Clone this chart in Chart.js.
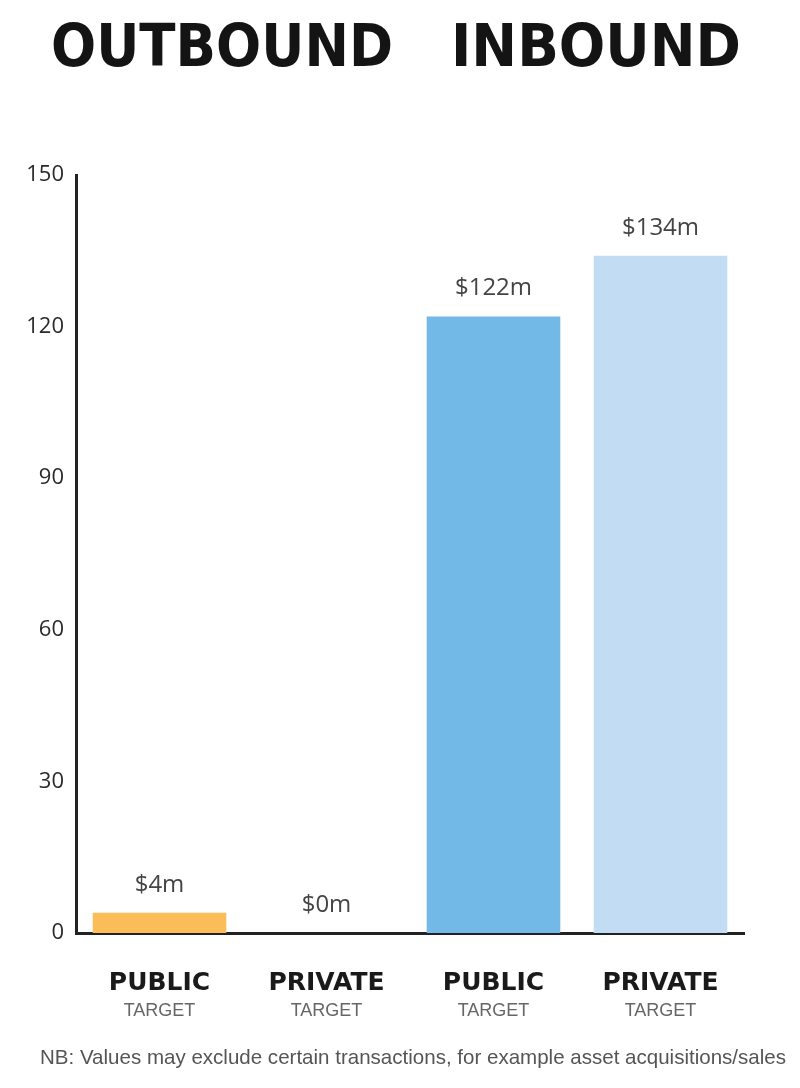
<!DOCTYPE html>
<html>
<head>
<meta charset="utf-8">
<script src="https://cdn.jsdelivr.net/npm/chart.js@4/dist/chart.umd.min.js"></script>
<style>
  html, body { margin: 0; padding: 0; background: #fff; }
  #wrap { width: 800px; height: 1088px; position: relative; }
</style>
</head>
<body>
<div id="wrap"><canvas id="chart" width="800" height="1088"></canvas></div>
<script>
// chart data
const groups = ['OUTBOUND', 'INBOUND'];
const categories = ['PUBLIC', 'PRIVATE', 'PUBLIC', 'PRIVATE'];
const subLabels = ['TARGET', 'TARGET', 'TARGET', 'TARGET'];
const values = [4, 0, 122, 134];
const valueLabels = ['$4m', '$0m', '$122m', '$134m'];
const barColors = ['#fbbd58', '#fbbd58', '#73b9e7', '#c2ddf3'];
const yTicks = [0, 30, 60, 90, 120, 150];
const footnote = 'NB: Values may exclude certain transactions, for example asset acquisitions/sales';

// headings, value labels, two-line category labels and footnote
const decorations = {
  id: 'decorations',
  afterDatasetsDraw(chart) {
    const ctx = chart.ctx;
    const meta = chart.getDatasetMeta(0);
    const x = chart.scales.x;
    ctx.save();
    ctx.textAlign = 'center';

    // bar value labels
    ctx.fillStyle = '#444';
    ctx.font = '24px "Open Sans", sans-serif';
    ctx.textBaseline = 'bottom';
    meta.data.forEach((bar, i) => {
      ctx.fillText(valueLabels[i], bar.x, bar.y - 16);
    });

    // category labels
    ctx.textBaseline = 'alphabetic';
    categories.forEach((c, i) => {
      const cx = x.getPixelForValue(i);
      ctx.fillStyle = '#1a1a1a';
      ctx.font = 'bold 25px "DejaVu Sans", sans-serif';
      ctx.fillText(c, cx, 990, 122);
      ctx.fillStyle = '#666';
      ctx.font = '18px "Liberation Sans", sans-serif';
      ctx.fillText(subLabels[i], cx, 1016, 78);
    });

    // group headings
    ctx.fillStyle = '#141414';
    ctx.font = 'bold 58px "DejaVu Sans", sans-serif';
    ctx.fillText(groups[0], 222, 66, 342);
    ctx.fillText(groups[1], 596, 66, 290);

    // footnote
    ctx.fillStyle = '#555';
    ctx.font = '21px "Liberation Sans", sans-serif';
    ctx.textAlign = 'left';
    ctx.fillText(footnote, 40, 1064, 746);
    ctx.restore();
  }
};

new Chart(document.getElementById('chart'), {
  type: 'bar',
  data: {
    labels: categories,
    datasets: [{
      data: values,
      backgroundColor: barColors,
      borderWidth: 0,
      barPercentage: 0.8,
      categoryPercentage: 1.0
    }]
  },
  options: {
    responsive: false,
    animation: false,
    layout: { padding: { top: 175, right: 56, bottom: 0, left: 0 } },
    plugins: {
      legend: { display: false },
      tooltip: { enabled: false }
    },
    scales: {
      x: {
        grid: { display: false },
        border: { display: true, color: '#222', width: 3 },
        ticks: { display: false },
        afterFit(scale) { scale.height = 155; }
      },
      y: {
        min: 0,
        max: 150,
        afterBuildTicks(scale) { scale.ticks = yTicks.map(v => ({ value: v })); },
        grid: { display: false, drawTicks: false },
        border: { display: true, color: '#222', width: 3 },
        ticks: {
          color: '#2a2a2a',
          padding: 12,
          font: { family: '"Open Sans", sans-serif', size: 22 }
        },
        afterFit(scale) { scale.width = 76; }
      }
    }
  },
  plugins: [decorations]
});
</script>
</body>
</html>
